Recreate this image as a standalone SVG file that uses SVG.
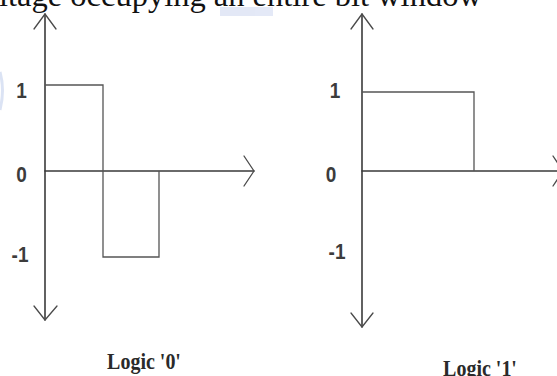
<svg xmlns="http://www.w3.org/2000/svg" width="557" height="376" viewBox="0 0 557 376">
<style>
.axis{fill:none;stroke:#3a3a3a;stroke-width:1.6;stroke-linecap:round;stroke-linejoin:round}
.head{fill:none;stroke:#4a4a4a;stroke-width:1.3;stroke-linecap:round;stroke-linejoin:round}
.wave{fill:none;stroke:#555;stroke-width:1.3;stroke-linejoin:miter}
.lbl{font-family:"Liberation Sans",Arial,sans-serif;font-size:19px;font-weight:bold;fill:#3c3c3c;text-anchor:middle}
.cap{font-family:"Liberation Serif","Times New Roman",serif;font-size:20px;font-weight:bold;fill:#2a2a2a;text-anchor:middle}
.top{font-family:"Liberation Serif","Times New Roman",serif;font-size:32.5px;fill:#111}
</style>
<rect width="557" height="376" fill="#fff"/>
<g id="watermark" opacity="0.5">
<rect x="220" y="7" width="53" height="9" fill="#c9d3ef"/>
<path d="M0,72 Q5,90 0,110" fill="none" stroke="#b9c8ea" stroke-width="3"/>
</g>
<text class="top" x="-1" y="6">ltage occupying an entire bit window</text>
<g id="plot-logic0">
<g id="axes-0">
<line class="axis" x1="45" y1="14" x2="45" y2="320"/>
<line class="axis" x1="45" y1="171" x2="254" y2="171"/>
<polyline class="head" points="34,29 45,14 56,29"/>
<polyline class="head" points="34,306 45,320 57,306"/>
<polyline class="head" points="244,156 254,171 244,186"/>
</g>
<g id="wave-0">
<polyline class="wave" points="45,85 103,85 103,257 159,257 159,171"/>
</g>
<g id="labels-0">
<text class="lbl" transform="translate(21.5,98) scale(1,1.15)">1</text>
<text class="lbl" transform="translate(21.5,182) scale(1,1.15)">0</text>
<text class="lbl" transform="translate(20,262) scale(1,1.15)">-1</text>
</g>
<text class="cap" transform="translate(144,369) scale(1,1.2)">Logic '0'</text>
</g>
<g id="plot-logic1">
<g id="axes-1">
<line class="axis" x1="362" y1="14" x2="362" y2="327"/>
<line class="axis" x1="362" y1="171" x2="563" y2="171"/>
<polyline class="head" points="351,29 362,14 373,29"/>
<polyline class="head" points="351,313 362,327 373,313"/>
<polyline class="head" points="553,156 563,171 553,186"/>
</g>
<g id="wave-1">
<polyline class="wave" points="362,92 474,92 474,171"/>
</g>
<g id="labels-1">
<text class="lbl" transform="translate(335,98) scale(1,1.15)">1</text>
<text class="lbl" transform="translate(331,182) scale(1,1.15)">0</text>
<text class="lbl" transform="translate(337,259) scale(1,1.15)">-1</text>
</g>
<text class="cap" transform="translate(480,376) scale(1,1.2)">Logic '1'</text>
</g>
</svg>
